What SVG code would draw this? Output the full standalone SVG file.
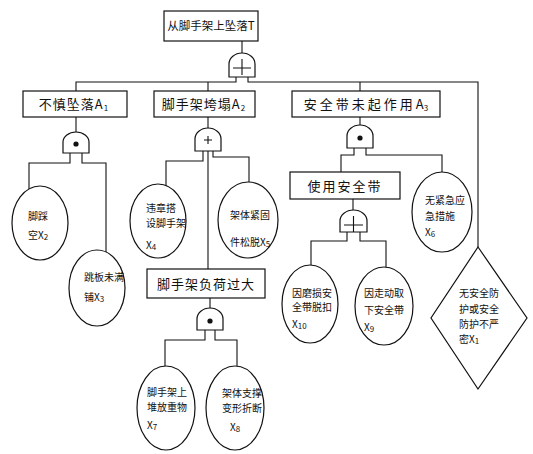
<svg xmlns="http://www.w3.org/2000/svg" width="533" height="454" viewBox="0 0 533 454">
<style>
.bx{fill:#fff;stroke:#111;stroke-width:1.2}
.el{fill:#fff;stroke:#111;stroke-width:1.2}
.g{fill:#fff;stroke:#111;stroke-width:1.2}
.ln{fill:none;stroke:#111;stroke-width:1.1}
.t{font-family:"Noto Sans CJK SC","Noto Sans",sans-serif;font-size:13px;fill:#111;text-anchor:middle;letter-spacing:1px}
.s{font-family:"Noto Sans CJK SC","Noto Sans",sans-serif;font-size:10px;fill:#111}
.sub{font-size:8px}
</style>
<rect width="533" height="454" fill="#fff"/>
<g id="connectors" class="ln">
<path d="M242,41 V53"/>
<path d="M236,77 V82 H76 V91"/>
<path d="M248,77 V82 H478 V247"/>
<path d="M208,82 V91"/>
<path d="M360,82 V91"/>
<path d="M76,117 V132"/>
<path d="M70,153 V163 H29 V189"/>
<path d="M82,153 V163 H106 V252"/>
<path d="M208,117 V128"/>
<path d="M203,151 V161 H166 V186"/>
<path d="M208,151 V269"/>
<path d="M213,151 V157 H249 V182"/>
<path d="M210,298 V308"/>
<path d="M205,330 V340 H165 V367"/>
<path d="M215,330 V340 H237 V366"/>
<path d="M360,117 V125"/>
<path d="M354,148 V155 H341 V172"/>
<path d="M366,148 V155 H442 V172"/>
<path d="M353,199 V210"/>
<path d="M347,232 V241 H311 V265"/>
<path d="M360,232 V241 H386 V268"/>
</g>
<g id="T">
<rect class="bx" x="164" y="11" width="94" height="30"/>
<text class="t" x="211" y="30" style="font-size:11.5px;letter-spacing:0">从脚手架上坠落T</text>
</g>
<g id="gateT">
<path class="g" d="M229,77 V64 A13,11 0 0 1 255,64 V77 Z"/>
<path class="ln" d="M233,68 H251 M242,59 V75"/>
</g>
<g id="A1">
<rect class="bx" x="23" y="91" width="104" height="26"/>
<text class="t" x="74" y="109">不慎坠落A<tspan class="sub" dy="2">1</tspan></text>
</g>
<g id="gateA1">
<path class="g" d="M63,153 V142 A13,10 0 0 1 89,142 V153 Z"/>
<circle cx="76" cy="144" r="2.6" fill="#111"/>
</g>
<g id="A2">
<rect class="bx" x="154" y="91" width="101" height="26"/>
<text class="t" x="204" y="109">脚手架垮塌A<tspan class="sub" dy="2">2</tspan></text>
</g>
<g id="gateA2">
<path class="g" d="M195,151 V139 A13,11 0 0 1 221,139 V151 Z"/>
<path class="ln" d="M204,140 H212 M208,136 V144"/>
</g>
<g id="A3">
<rect class="bx" x="292" y="91" width="148" height="26"/>
<text class="t" x="366" y="109" style="letter-spacing:3px">安全带未起作用<tspan style="letter-spacing:0">A</tspan><tspan class="sub" dy="2" style="letter-spacing:0">3</tspan></text>
</g>
<g id="gateA3">
<path class="g" d="M347,148 V136 A13,11 0 0 1 373,136 V148 Z"/>
<circle cx="360" cy="138" r="2.6" fill="#111"/>
</g>
<g id="X2">
<ellipse class="el" cx="40" cy="223" rx="28" ry="37"/>
<text class="s" x="28" y="220">脚踩</text>
<text class="s" x="28" y="239">空X<tspan class="sub" dy="1">2</tspan></text>
</g>
<g id="X3">
<ellipse class="el" cx="97" cy="288" rx="28" ry="38"/>
<text class="s" x="84" y="281">跳板未满</text>
<text class="s" x="84" y="301">铺X<tspan class="sub" dy="1">3</tspan></text>
</g>
<g id="X4">
<ellipse class="el" cx="158" cy="221" rx="28" ry="37"/>
<text class="s" x="146" y="212">违章搭</text>
<text class="s" x="146" y="227">设脚手架</text>
<text class="s" x="146" y="249">X<tspan class="sub" dy="1">4</tspan></text>
</g>
<g id="X5">
<ellipse class="el" cx="248" cy="220" rx="30" ry="38"/>
<text class="s" x="230" y="219">架体紧固</text>
<text class="s" x="230" y="246">件松脱X<tspan class="sub" dy="1">5</tspan></text>
</g>
<g id="B1">
<rect class="bx" x="147" y="269" width="118" height="29"/>
<text class="t" x="206" y="289">脚手架负荷过大</text>
</g>
<g id="gateB1">
<path class="g" d="M197,330 V319 A13,11 0 0 1 223,319 V330 Z"/>
<circle cx="210" cy="321" r="2.6" fill="#111"/>
</g>
<g id="X7">
<ellipse class="el" cx="166" cy="408" rx="29" ry="42"/>
<text class="s" x="147" y="396">脚手架上</text>
<text class="s" x="147" y="411">堆放重物</text>
<text class="s" x="147" y="429">X<tspan class="sub" dy="1">7</tspan></text>
</g>
<g id="X8">
<ellipse class="el" cx="235" cy="408" rx="29" ry="42"/>
<text class="s" x="222" y="397">架体支撑</text>
<text class="s" x="222" y="412">变形折断</text>
<text class="s" x="230" y="431">X<tspan class="sub" dy="1">8</tspan></text>
</g>
<g id="B2">
<rect class="bx" x="290" y="172" width="110" height="27"/>
<text class="t" x="345" y="191" style="letter-spacing:2px">使用安全带</text>
</g>
<g id="gateB2">
<path class="g" d="M340,232 V221 A13.5,11 0 0 1 367,221 V232 Z"/>
<path class="ln" d="M344,225 H363 M353.5,216 V232"/>
</g>
<g id="X6">
<ellipse class="el" cx="442" cy="212" rx="30" ry="40"/>
<text class="s" x="425" y="204">无紧急应</text>
<text class="s" x="425" y="220">急措施</text>
<text class="s" x="425" y="236">X<tspan class="sub" dy="1">6</tspan></text>
</g>
<g id="X10">
<ellipse class="el" cx="310" cy="304" rx="28" ry="39"/>
<text class="s" x="292" y="297">因磨损安</text>
<text class="s" x="292" y="311">全带脱扣</text>
<text class="s" x="292" y="328">X<tspan class="sub" dy="1">10</tspan></text>
</g>
<g id="X9">
<ellipse class="el" cx="384" cy="306" rx="29" ry="39"/>
<text class="s" x="364" y="297">因走动取</text>
<text class="s" x="364" y="314">下安全带</text>
<text class="s" x="364" y="331">X<tspan class="sub" dy="1">9</tspan></text>
</g>
<g id="X1">
<polygon class="el" points="478,247 527,318 478,389 431,318"/>
<text class="s" x="459" y="297">无安全防</text>
<text class="s" x="459" y="313">护或安全</text>
<text class="s" x="459" y="328">防护不严</text>
<text class="s" x="459" y="343">密X<tspan class="sub" dy="1">1</tspan></text>
</g>
</svg>
